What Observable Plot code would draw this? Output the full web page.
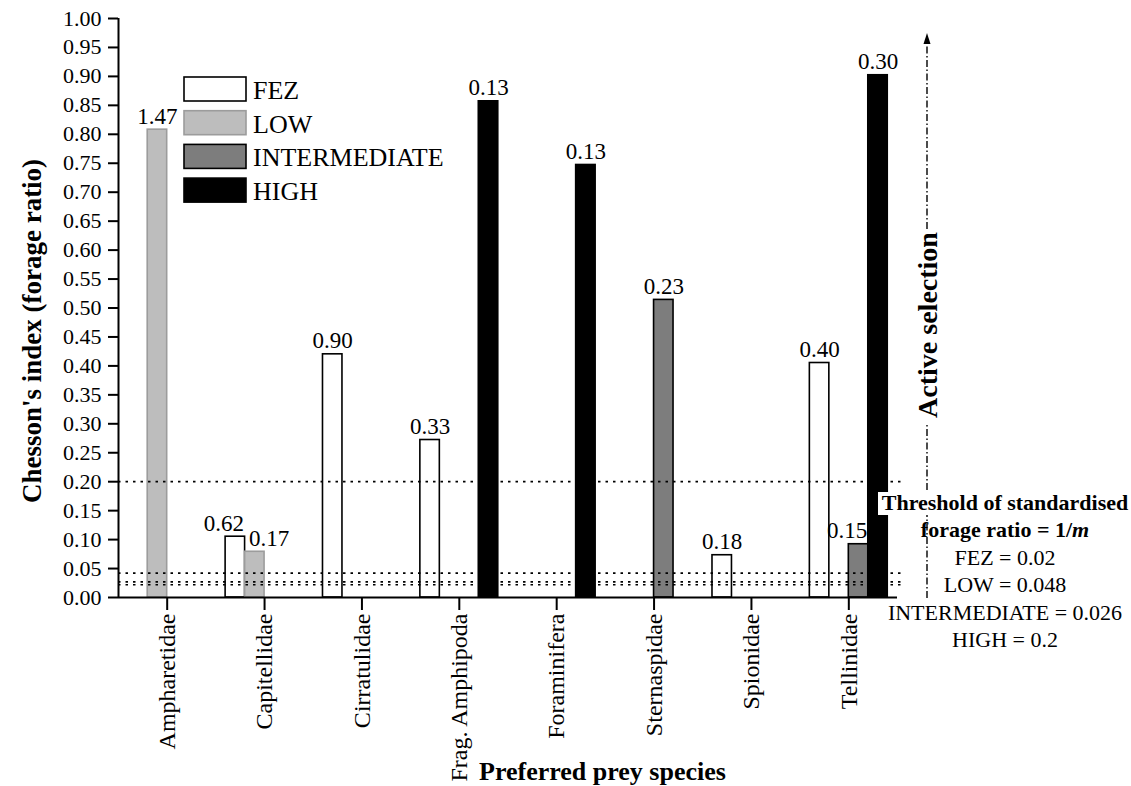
<!DOCTYPE html>
<html><head><meta charset="utf-8">
<script src="https://cdn.jsdelivr.net/npm/d3@7"></script>
<script src="https://cdn.jsdelivr.net/npm/@observablehq/plot@0.6"></script>
<style>
html,body{margin:0;padding:0;background:#fff;}
#wrap{position:relative;width:1131px;height:786px;overflow:hidden;}
#wrap svg{display:block;}
#wrap svg, #wrap svg text, #wrap svg g { font-family: "Liberation Serif", "Times New Roman", Times, "DejaVu Serif", serif !important; }
#overlay{position:absolute;left:0;top:0;pointer-events:none;}
</style></head><body><div id="wrap"></div>
<script>
// ---- data ----
const categories = ["Ampharetidae","Capitellidae","Cirratulidae","Frag. Amphipoda","Foraminifera","Sternaspidae","Spionidae","Tellinidae"];
const series = ["FEZ","LOW","INTERMEDIATE","HIGH"];
const fezValues          = [null, 0.105, 0.420, 0.272, null, null, 0.073, 0.405];
const fezLabels          = [null, "0.62", "0.90", "0.33", null, null, "0.18", "0.40"];
const lowValues          = [0.808, 0.079, null, null, null, null, null, null];
const lowLabels          = ["1.47", "0.17", null, null, null, null, null, null];
const intermediateValues = [null, null, null, null, null, 0.514, null, 0.092];
const intermediateLabels = [null, null, null, null, null, "0.23", null, "0.15"];
const highValues         = [null, null, null, 0.857, 0.747, null, null, 0.902];
const highLabels         = [null, null, null, "0.13", "0.13", null, null, "0.30"];
const thresholdLines = [0.2, 0.042, 0.027, 0.022];
const yTicks = [0,0.05,0.10,0.15,0.20,0.25,0.30,0.35,0.40,0.45,0.50,0.55,0.60,0.65,0.70,0.75,0.80,0.85,0.90,0.95,1.00];
const thresholdText = ["FEZ = 0.02","LOW = 0.048","INTERMEDIATE = 0.026","HIGH = 0.2"];
const seriesFill   = ["#ffffff","#bdbdbd","#7d7d7d","#000000"];
const seriesStroke = ["#000000","#9c9c9c","#000000","#000000"];

// ---- table ----
const valueSets = [fezValues, lowValues, intermediateValues, highValues];
const labelSets = [fezLabels, lowLabels, intermediateLabels, highLabels];
const rows = [];
valueSets.forEach((vals, si) => vals.forEach((v, ci) => {
  if (v != null) rows.push({category: categories[ci], series: series[si], ci, si, value: v, label: labelSets[si][ci]});
}));

const gw = 0.2; // each bar takes one fifth of a category slot
const bx1 = d => d.ci + (d.si - 2) * gw;
const bx2 = d => d.ci + (d.si - 1) * gw;
const bxc = d => d.ci + (d.si - 1.5) * gw;
const key = d => d.category + "|" + d.series;
const endAnchored = new Set(["Capitellidae|FEZ", "Tellinidae|INTERMEDIATE"]);
const startAnchored = new Set(["Capitellidae|LOW"]);

const font = '"Liberation Serif", "Times New Roman", Times, "DejaVu Serif", serif';

const chart = Plot.plot({
  width: 1131, height: 786,
  marginLeft: 118, marginRight: 234, marginTop: 18, marginBottom: 189,
  style: {fontFamily: font, fontSize: "22px", color: "#000", background: "transparent", overflow: "visible"},
  x: {type: "linear", domain: [-0.5, categories.length - 0.5], axis: null},
  y: {domain: [0, 1], axis: null},
  marks: [
    ...series.map((s, si) => Plot.rectY(rows.filter(d => d.si === si), {
      x1: bx1, x2: bx2, y1: 0, y2: "value",
      fill: seriesFill[si], stroke: seriesStroke[si], strokeWidth: 1.6
    })),
    Plot.ruleY(thresholdLines, {stroke: "#000", strokeWidth: 1.7, strokeDasharray: "2.5,5", insetRight: -5}),
    Plot.ruleY([0], {stroke: "#000", strokeWidth: 2}),
    Plot.ruleX([-0.5], {y1: 0, y2: 1, stroke: "#000", strokeWidth: 2}),
    Plot.axisY(yTicks, {tickFormat: d => d.toFixed(2), tickSize: 10, tickPadding: 7, fontSize: 22, strokeWidth: 2, label: null}),
    Plot.axisX(categories.map((c, i) => i), {tickFormat: i => categories[i], tickRotate: -90, tickSize: 13, tickPadding: 3, fontSize: 24, strokeWidth: 2, label: null}),
    Plot.text(rows.filter(d => d.label && !endAnchored.has(key(d)) && !startAnchored.has(key(d))),
      {x: bxc, y: "value", text: "label", lineAnchor: "bottom", dy: -6, fontSize: 23}),
    Plot.text(rows.filter(d => endAnchored.has(key(d))),
      {x: bx2, y: "value", text: "label", lineAnchor: "bottom", textAnchor: "end", dy: -6, dx: -1, fontSize: 23}),
    Plot.text(rows.filter(d => startAnchored.has(key(d))),
      {x: bx1, y: "value", text: "label", lineAnchor: "bottom", textAnchor: "start", dy: -6, dx: 4, fontSize: 23})
  ]
});
const wrap = document.getElementById("wrap");
wrap.appendChild(chart);

// ---- annotations overlay (legend, axis titles, selection arrow, thresholds) ----
const ov = d3.select(wrap).append("svg").attr("id", "overlay")
  .attr("width", 1131).attr("height", 786)
  .attr("font-family", font);

// legend
series.forEach((s, k) => {
  const top = 77 + k * 33.7;
  ov.append("rect").attr("x", 184).attr("y", top).attr("width", 62).attr("height", 24)
    .attr("fill", seriesFill[k]).attr("stroke", seriesStroke[k]).attr("stroke-width", 1.6);
  ov.append("text").attr("x", 253).attr("y", top + 22).attr("font-size", 26).text(s);
});

// axis titles
ov.append("text").attr("transform", "translate(41,331) rotate(-90)")
  .attr("text-anchor", "middle").attr("font-weight", "bold").attr("font-size", 27)
  .text("Chesson's index (forage ratio)");
ov.append("text").attr("x", 479).attr("y", 780)
  .attr("font-weight", "bold").attr("font-size", 26)
  .text("Preferred prey species");

// active selection arrow
const ax = 927;
ov.append("line").attr("x1", ax).attr("x2", ax).attr("y1", 598).attr("y2", 425)
  .attr("stroke", "#000").attr("stroke-width", 1.4).attr("stroke-dasharray", "7,2.5,1.5,2.5");
ov.append("line").attr("x1", ax).attr("x2", ax).attr("y1", 229).attr("y2", 42)
  .attr("stroke", "#000").attr("stroke-width", 1.4).attr("stroke-dasharray", "7,2.5,1.5,2.5");
ov.append("path").attr("d", `M${ax},33 L${ax - 3.5},44 L${ax + 3.5},44 Z`).attr("fill", "#000");
ov.append("text").attr("transform", "translate(937,325) rotate(-90)")
  .attr("text-anchor", "middle").attr("font-weight", "bold").attr("font-size", 28)
  .text("Active selection");

// threshold note
ov.append("rect").attr("x", 878).attr("y", 492).attr("width", 253).attr("height", 23).attr("fill", "#fff");
ov.append("text").attr("x", 1005).attr("y", 510).attr("text-anchor", "middle")
  .attr("font-weight", "bold").attr("font-size", 22).text("Threshold of standardised");
const t2 = ov.append("text").attr("x", 1005).attr("y", 537).attr("text-anchor", "middle")
  .attr("font-weight", "bold").attr("font-size", 22);
t2.append("tspan").text("forage ratio = 1/");
t2.append("tspan").attr("font-style", "italic").text("m");
thresholdText.forEach((t, k) => {
  ov.append("text").attr("x", 1005).attr("y", 565 + k * 27.4).attr("text-anchor", "middle")
    .attr("font-size", 22).text(t);
});
</script></body></html>
